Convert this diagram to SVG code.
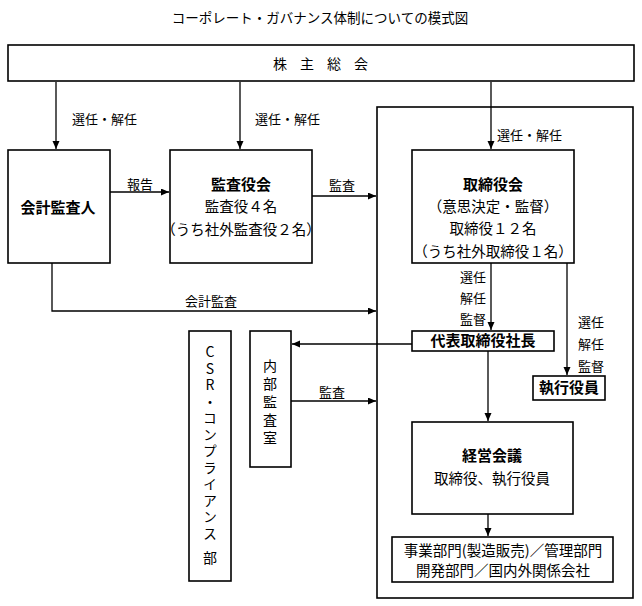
<svg xmlns="http://www.w3.org/2000/svg" width="642" height="606" viewBox="0 0 642 606">
<style>
text{font-family:"Noto Sans CJK JP","Liberation Sans",sans-serif;fill:#000;}
.box{fill:#fff;stroke:#000;stroke-width:1.6;}
.b{font-size:15px;font-weight:bold;text-anchor:middle;}
.t{font-size:14.5px;text-anchor:middle;}
.l{font-size:13px;}
.v{font-size:14px;writing-mode:vertical-rl;text-orientation:upright;}
.c{fill:none;stroke:#000;stroke-width:1.3;}
</style>
<defs>
<marker id="ah" markerUnits="userSpaceOnUse" markerWidth="9" markerHeight="8" refX="8" refY="3.5" orient="auto">
<path d="M0,0 L8,3.5 L0,7 z" fill="#000"/>
</marker>
</defs>
<rect width="642" height="606" fill="#fff"/>
<text x="320" y="23" font-size="13.5" text-anchor="middle">コーポレート・ガバナンス体制についての模式図</text>

<g id="container"><rect class="box" x="377" y="107" width="256" height="491"/></g>

<g id="connectors">
<path class="c" d="M56,82 V149" marker-end="url(#ah)"/>
<path class="c" d="M240,82 V149" marker-end="url(#ah)"/>
<path class="c" d="M491,82 V149" marker-end="url(#ah)"/>
<path class="c" d="M110,192 H169" marker-end="url(#ah)"/>
<path class="c" d="M312,196 H376" marker-end="url(#ah)"/>
<path class="c" d="M52,263 V311 H376" marker-end="url(#ah)"/>
<path class="c" d="M491,263 V330" marker-end="url(#ah)"/>
<path class="c" d="M567,263 V375" marker-end="url(#ah)"/>
<path class="c" d="M412,344 H292" marker-end="url(#ah)"/>
<path class="c" d="M291,401 H376" marker-end="url(#ah)"/>
<path class="c" d="M488,351 V421" marker-end="url(#ah)"/>
<path class="c" d="M488,514 V536" marker-end="url(#ah)"/>
<text class="l" x="72" y="124">選任・解任</text>
<text class="l" x="255" y="124">選任・解任</text>
<text class="l" x="497" y="140">選任・解任</text>
<text class="l" x="140" y="189" text-anchor="middle">報告</text>
<text class="l" x="342" y="190" text-anchor="middle">監査</text>
<text class="l" x="211" y="306" text-anchor="middle">会計監査</text>
<text class="l" x="486" y="282" text-anchor="end">選任</text>
<text class="l" x="486" y="303" text-anchor="end">解任</text>
<text class="l" x="486" y="324" text-anchor="end">監督</text>
<text class="l" x="578" y="327">選任</text>
<text class="l" x="578" y="349">解任</text>
<text class="l" x="578" y="371">監督</text>
<text class="l" x="332" y="397" text-anchor="middle">監査</text>
</g>

<g id="shareholders">
<rect class="box" x="8" y="45" width="626" height="36"/>
<text x="321" y="69" font-size="14" text-anchor="middle" letter-spacing="13" dx="6">株主総会</text>
</g>

<g id="auditor">
<rect class="box" x="8" y="150" width="102" height="113"/>
<text class="b" x="58" y="213">会計監査人</text>
</g>

<g id="audit-board">
<rect class="box" x="170" y="150" width="142" height="113"/>
<text class="b" x="241" y="190">監査役会</text>
<text class="t" x="241" y="212">監査役４名</text>
<text class="t" x="241" y="235">（うち社外監査役２名）</text>
</g>

<g id="board">
<rect class="box" x="412" y="150" width="162" height="113"/>
<text class="b" x="493" y="190">取締役会</text>
<text class="t" x="493" y="212">（意思決定・監督）</text>
<text class="t" x="493" y="234">取締役１２名</text>
<text class="t" x="493" y="257">（うち社外取締役１名）</text>
</g>

<g id="president">
<rect class="box" x="412" y="331" width="142" height="20"/>
<text class="b" x="483" y="346">代表取締役社長</text>
</g>

<g id="officers">
<rect class="box" x="533" y="376" width="72" height="24"/>
<text class="b" x="569" y="393" font-size="14">執行役員</text>
</g>

<g id="management">
<rect class="box" x="412" y="422" width="161" height="92"/>
<text class="b" x="492" y="461">経営会議</text>
<text class="t" x="492" y="484">取締役、執行役員</text>
</g>

<g id="divisions">
<rect class="box" x="392" y="537" width="221" height="45"/>
<text class="t" x="503" y="556">事業部門(製造販売)／管理部門</text>
<text class="t" x="503" y="576">開発部門／国内外関係会社</text>
</g>

<g id="internal-audit">
<rect class="box" x="250" y="331" width="41" height="136"/>
<text class="v" x="270" y="359" letter-spacing="4">内部監査室</text>
</g>

<g id="csr">
<rect class="box" x="189" y="331" width="42" height="250"/>
<text class="v" x="210" y="345" letter-spacing="2.5">CSR・コンプライアンス</text>
<text class="v" x="210" y="551">部</text>
</g>
</svg>
